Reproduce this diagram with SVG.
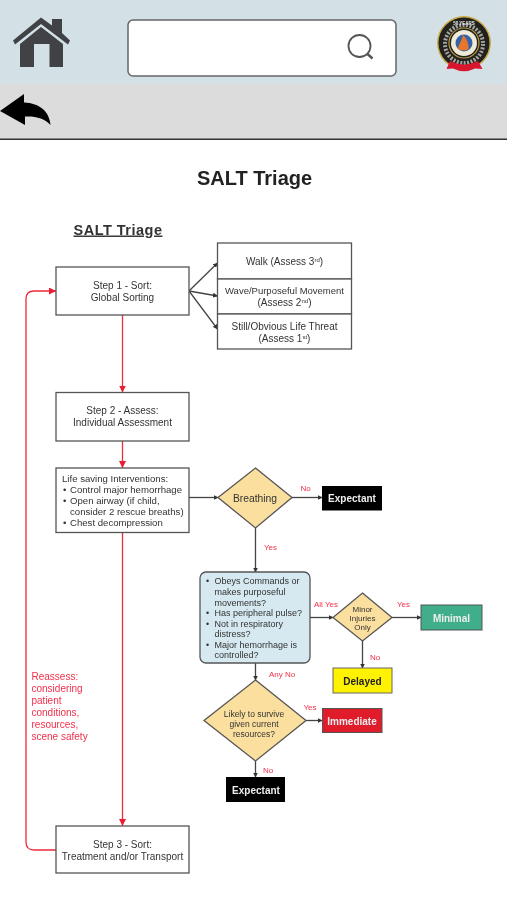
<svg xmlns="http://www.w3.org/2000/svg" width="507" height="900" viewBox="0 0 507 900">
<style>
text{font-family:"Liberation Sans",Arial,sans-serif;fill:#333}
.b{fill:#fff;stroke:#555;stroke-width:1.3}
.d{fill:#fbdf9e;stroke:#555;stroke-width:1.3}
.t{font-size:10px;text-anchor:middle}
.l{font-size:10px}
.i{font-size:9.6px}
.o{font-size:9px}
.m{font-size:8px;text-anchor:middle}
.y{font-size:8.500px;text-anchor:middle}
.s{font-size:6px}
.r{font-size:8px;fill:#f0304a}
.e{font-size:10px;fill:#f0304a}
.w{font-size:10px;font-weight:bold;text-anchor:middle;fill:#eee}
.k{fill:none;stroke:#444;stroke-width:1.3;marker-end:url(#ak)}
.c{fill:none;stroke:#ee2a3c;stroke-width:1.3;marker-end:url(#ar)}
</style>
<defs>
<marker id="ak" markerUnits="userSpaceOnUse" markerWidth="5" markerHeight="5" refX="4.500" refY="2.500" orient="auto"><path d="M0 0L5 2.500L0 5Z" fill="#333"/></marker>
<marker id="ar" markerUnits="userSpaceOnUse" markerWidth="7" markerHeight="7" refX="7" refY="3.500" orient="auto"><path d="M0 0L7 3.500L0 7Z" fill="#ee1c30"/></marker>
<filter id="soft" x="-2%" y="-2%" width="104%" height="104%"><feGaussianBlur stdDeviation="0.450"/></filter>
</defs>
<rect width="507" height="900" fill="#fff"/>
<g id="header" filter="url(#soft)">
<rect width="507" height="84" fill="#d3e1e6"/>
<rect y="84" width="507" height="55" fill="#dcdcdc"/>
<rect y="138.500" width="507" height="1.500" fill="#333"/>
<g id="home" fill="#3f4245">
<path d="M41 17.500L52 25.500V19H62V33L70 40.500L68 44.500L41 24L15 44.500L13 40.500Z"/>
<path d="M41 27L63 44V67H49.500V44H34V67H20V44Z"/>
</g>
<g id="search">
<rect x="128" y="20" width="268" height="56" rx="5" fill="#fff" stroke="#666" stroke-width="1.500"/>
<circle cx="359.500" cy="46" r="11" fill="none" stroke="#555" stroke-width="1.800"/>
<path d="M367.500 54L372.500 58.500" stroke="#555" stroke-width="2.500"/>
</g>
<g id="logo">
<circle cx="464" cy="43" r="27" fill="#c9a84a"/>
<circle cx="464" cy="43" r="25.500" fill="#23201e"/>
<circle cx="464" cy="44" r="19" fill="none" stroke="#a5a5a0" stroke-width="4" stroke-dasharray="2 1.500"/>
<circle cx="464" cy="43" r="15" fill="#23201e" stroke="#b89a45" stroke-width="1.200"/>
<circle cx="464" cy="43" r="13" fill="#f0ead8"/>
<circle cx="464" cy="43" r="8.500" fill="#3564a8"/>
<path d="M463 35C467 39 469 44 468.500 49Q464 52 458 49C458.500 44 462 41 463 35Z" fill="#e8762a"/>
<path d="M450 61Q464 68 478 61L482.500 69L475 68.500Q464 74 453 68.500L446.500 69Z" fill="#d8182f"/>
<text x="464" y="24.500" font-size="4.500" font-weight="bold" text-anchor="middle" style="fill:#eee">50 YEARS</text>
</g>
<path id="back" d="M0 111L24 94V102.500C40 103 49.500 112 50.500 125C45 118.500 36 116 25 116.500V125Z" fill="#000"/>
</g>
<g filter="url(#soft)">
<text x="254.500" y="185" font-size="20px" font-weight="bold" text-anchor="middle" style="fill:#222">SALT Triage</text>
<text id="subtitle" x="118" y="234.500" font-size="14.500" font-weight="bold" text-anchor="middle" letter-spacing=".5" text-decoration="underline">SALT Triage</text>
<g id="connectors">
<path class="k" d="M189 291L217.500 263"/>
<path class="k" d="M189 291L217.500 296"/>
<path class="k" d="M189 291L217.500 329"/>
<path class="c" d="M122.500 315V392.500"/>
<path class="c" d="M122.500 441V468"/>
<path class="c" d="M122.500 532.500V826"/>
<path class="c" d="M56 850H34Q26 850 26 842V299Q26 291 34 291H56"/>
<path class="k" d="M189 497.500H218"/>
<path class="k" d="M292 497.500H322"/>
<path class="k" d="M255.500 528V572"/>
<path class="k" d="M310 617.500H333"/>
<path class="k" d="M392 617.500H421"/>
<path class="k" d="M362.500 641V668"/>
<path class="k" d="M255.500 663V680"/>
<path class="k" d="M306 720.500H322"/>
<path class="k" d="M255.500 761V777"/>
</g>
<g id="step1"><rect class="b" x="56" y="267" width="133" height="48"/><text class="t" x="122.500" y="289">Step 1 - Sort:</text><text class="t" x="122.500" y="301">Global Sorting</text></g>
<g id="walk"><rect class="b" x="217.500" y="243" width="134" height="36"/><text class="t" x="284.500" y="264.500">Walk (Assess 3<tspan class="s" dy="-3">rd</tspan><tspan dy="3">)</tspan></text></g>
<g id="wave"><rect class="b" x="217.500" y="279" width="134" height="35"/><text class="t" x="284.500" y="294" style="font-size:9.500px">Wave/Purposeful Movement</text><text class="t" x="284.500" y="306">(Assess 2<tspan class="s" dy="-3">nd</tspan><tspan dy="3">)</tspan></text></g>
<g id="still"><rect class="b" x="217.500" y="314" width="134" height="35"/><text class="t" x="284.500" y="329.500">Still/Obvious Life Threat</text><text class="t" x="284.500" y="341.500">(Assess 1<tspan class="s" dy="-3">st</tspan><tspan dy="3">)</tspan></text></g>
<g id="step2"><rect class="b" x="56" y="392.500" width="133" height="48.500"/><text class="t" x="122.500" y="414">Step 2 - Assess:</text><text class="t" x="122.500" y="426">Individual Assessment</text></g>
<g id="lsi"><rect class="b" x="56" y="468" width="133" height="64.500"/>
<text class="i" x="62" y="482">Life saving Interventions:</text>
<text class="i" x="63" y="493">•</text><text class="i" x="70" y="493">Control major hemorrhage</text>
<text class="i" x="63" y="504">•</text><text class="i" x="70" y="504">Open airway (if child,</text>
<text class="i" x="70" y="515">consider 2 rescue breaths)</text>
<text class="i" x="63" y="526">•</text><text class="i" x="70" y="526">Chest decompression</text></g>
<g id="breathing"><path class="d" d="M255.500 468L292 497.500L255.500 528L218 497.500Z"/><text x="255" y="501.500" font-size="10.300" text-anchor="middle">Breathing</text></g>
<g id="expectant1"><rect x="322" y="486" width="60" height="24.500" fill="#000"/><text class="w" x="352" y="502">Expectant</text></g>
<g id="obeys"><rect x="200" y="572" width="110" height="91" rx="6" fill="#d6e9f0" stroke="#555" stroke-width="1.300"/>
<text class="o" x="206" y="584">•</text><text class="o" x="214.500" y="584">Obeys Commands or</text>
<text class="o" x="214.500" y="595">makes purposeful</text>
<text class="o" x="214.500" y="605.500">movements?</text>
<text class="o" x="206" y="616">•</text><text class="o" x="214.500" y="616">Has peripheral pulse?</text>
<text class="o" x="206" y="626.500">•</text><text class="o" x="214.500" y="626.500">Not in respiratory</text>
<text class="o" x="214.500" y="637">distress?</text>
<text class="o" x="206" y="647.500">•</text><text class="o" x="214.500" y="647.500">Major hemorrhage is</text>
<text class="o" x="214.500" y="658">controlled?</text></g>
<g id="minor"><path class="d" d="M362.500 593L392 617.500L362.500 641L333 617.500Z"/>
<text class="m" x="362.500" y="612">Minor</text><text class="m" x="362.500" y="621">Injuries</text><text class="m" x="362.500" y="630">Only</text></g>
<g id="minimal"><rect x="421" y="605" width="61" height="25" fill="#3fae8a" stroke="#555" stroke-width="1"/><text class="w" x="451.500" y="621.500">Minimal</text></g>
<g id="delayed"><rect x="333" y="668" width="59" height="25" fill="#fff200" stroke="#666" stroke-width="1"/><text class="w" x="362.500" y="684.500" style="fill:#222">Delayed</text></g>
<g id="likely"><path class="d" d="M255.500 680L306 720.500L255.500 761L204 720.500Z"/>
<text class="y" x="254" y="717">Likely to survive</text><text class="y" x="254" y="727">given current</text><text class="y" x="254" y="737">resources?</text></g>
<g id="immediate"><rect x="322.500" y="708.500" width="59.500" height="24" fill="#e01b2a" stroke="#555" stroke-width="1"/><text class="w" x="352" y="724.500">Immediate</text></g>
<g id="expectant2"><rect x="226" y="777" width="59" height="25" fill="#000"/><text class="w" x="256" y="793.500">Expectant</text></g>
<g id="step3"><rect class="b" x="56" y="826" width="133" height="47"/><text class="t" x="122.500" y="848">Step 3 - Sort:</text><text class="t" x="122.500" y="860">Treatment and/or Transport</text></g>
<g id="labels">
<text class="r" x="300.500" y="491">No</text>
<text class="r" x="264" y="549.500">Yes</text>
<text class="r" x="314" y="607">All Yes</text>
<text class="r" x="397" y="607">Yes</text>
<text class="r" x="370" y="660">No</text>
<text class="r" x="269" y="676.500">Any No</text>
<text class="r" x="303.500" y="710">Yes</text>
<text class="r" x="263" y="772.500">No</text>
<text class="e" x="31.500" y="680">Reassess:</text>
<text class="e" x="31.500" y="692">considering</text>
<text class="e" x="31.500" y="704">patient</text>
<text class="e" x="31.500" y="716">conditions,</text>
<text class="e" x="31.500" y="728">resources,</text>
<text class="e" x="31.500" y="740">scene safety</text>
</g>
</g>
</svg>
